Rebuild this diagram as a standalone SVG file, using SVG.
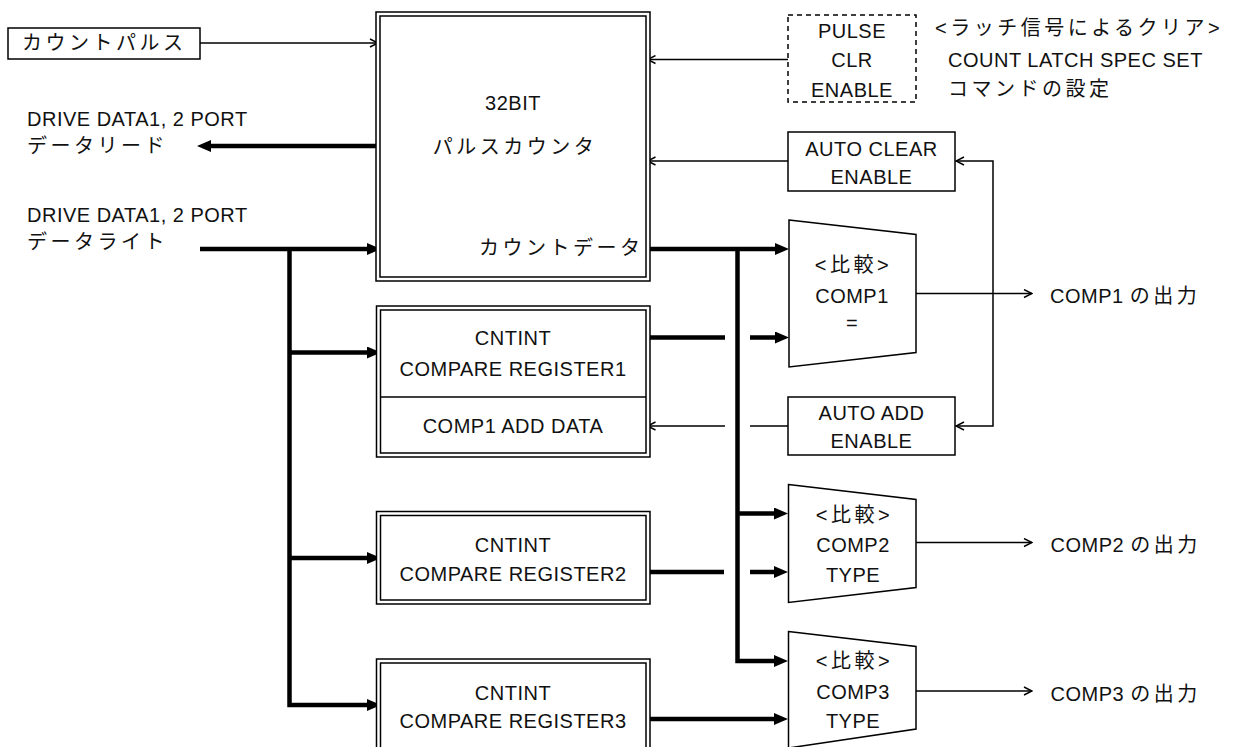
<svg xmlns="http://www.w3.org/2000/svg" width="1233" height="747" viewBox="0 0 1233 747">
<style>
  .bx{fill:#fff;stroke:#000;stroke-width:1.5}
  .dbx{fill:none;stroke:#000;stroke-width:1.5;stroke-dasharray:5 4}
  .thin{fill:none;stroke:#000;stroke-width:1.5}
  .thick{fill:none;stroke:#000;stroke-width:4.5}
  text{font-family:"Liberation Sans","Noto Sans CJK JP",sans-serif;font-size:20px;fill:#111}
  .t{letter-spacing:0.5px}
  .j{letter-spacing:3.5px}
  .c{text-anchor:middle}
</style>
<defs>
  <marker id="ah" viewBox="0 0 14 12" refX="6" refY="6" markerWidth="14" markerHeight="12" markerUnits="userSpaceOnUse" orient="auto">
    <path d="M0,0 L14,6 L0,12 z" fill="#000"/>
  </marker>
  <marker id="oa" viewBox="0 0 10 10" refX="9" refY="5" markerWidth="10" markerHeight="10" markerUnits="userSpaceOnUse" orient="auto">
    <path d="M1,1 L9,5 L1,9" fill="none" stroke="#000" stroke-width="1.4"/>
  </marker>
</defs>
<rect width="1233" height="747" fill="#fff"/>

<g id="connectors">
  <path class="thin" d="M200,43 H378" marker-end="url(#oa)"/>
  <path class="thin" d="M788,59.5 H647.5" marker-end="url(#oa)"/>
  <path class="thin" d="M788,161 H647.5" marker-end="url(#oa)"/>
  <path class="thin" d="M993,293.5 V161 H956" marker-end="url(#oa)"/>
  <path class="thin" d="M993,293.5 V426 H956" marker-end="url(#oa)"/>
  <path class="thin" d="M916,293.5 H1032" marker-end="url(#oa)"/>
  <path class="thin" d="M788,426 H750"/>
  <path class="thin" d="M725,426 H647.5" marker-end="url(#oa)"/>
  <path class="thin" d="M916,542.5 H1032" marker-end="url(#oa)"/>
  <path class="thin" d="M916,691 H1032" marker-end="url(#oa)"/>

  <path class="thick" d="M376,146 H205" marker-end="url(#ah)"/>
  <path class="thick" d="M200,249 H373" marker-end="url(#ah)"/>
  <path class="thick" d="M289.5,249 V705 H373" marker-end="url(#ah)"/>
  <path class="thick" d="M289.5,352.5 H373" marker-end="url(#ah)"/>
  <path class="thick" d="M289.5,558 H373" marker-end="url(#ah)"/>
  <path class="thick" d="M650,249 H781" marker-end="url(#ah)"/>
  <path class="thick" d="M737.5,249 V661 H780" marker-end="url(#ah)"/>
  <path class="thick" d="M737.5,513.5 H780" marker-end="url(#ah)"/>
  <path class="thick" d="M650,337.5 H725"/>
  <path class="thick" d="M750,337.5 H781" marker-end="url(#ah)"/>
  <path class="thick" d="M650,572 H724"/>
  <path class="thick" d="M750,572 H780" marker-end="url(#ah)"/>
  <path class="thick" d="M650,719 H780" marker-end="url(#ah)"/>
</g>

<g id="node-countpulse">
  <rect class="bx" x="8" y="28" width="192" height="31"/>
  <text class="j" x="22" y="50">カウントパルス</text>
</g>

<g id="label-dataread">
  <text class="t" x="27" y="126">DRIVE DATA1, 2 PORT</text>
  <text class="j" x="27" y="153">データリード</text>
</g>

<g id="label-datawrite">
  <text class="t" x="27" y="222">DRIVE DATA1, 2 PORT</text>
  <text class="j" x="27" y="249">データライト</text>
</g>

<g id="node-counter">
  <rect class="bx" x="376" y="12" width="274" height="269"/>
  <rect class="bx" x="380" y="16" width="266" height="261"/>
  <text class="t c" x="513" y="110">32BIT</text>
  <text class="j c" x="515" y="154">パルスカウンタ</text>
  <text class="j" x="643.5" y="255" text-anchor="end">カウントデータ</text>
</g>

<g id="node-pulseclr">
  <rect class="dbx" x="788" y="15" width="128" height="87"/>
  <text class="t c" x="852" y="37.5">PULSE</text>
  <text class="t c" x="852" y="66.5">CLR</text>
  <text class="t c" x="852" y="96.5">ENABLE</text>
</g>

<g id="label-latch">
  <text x="935" y="35"><tspan class="j">&lt;ラッチ信号によるクリア&gt;</tspan></text>
  <text class="t" x="948" y="66.5">COUNT LATCH SPEC SET</text>
  <text class="j" x="948" y="96">コマンドの設定</text>
</g>

<g id="node-autoclear">
  <rect class="bx" x="788" y="132" width="167" height="59"/>
  <text class="t c" x="871.5" y="156">AUTO CLEAR</text>
  <text class="t c" x="871.5" y="184">ENABLE</text>
</g>

<g id="node-autoadd">
  <rect class="bx" x="788" y="397" width="167" height="58"/>
  <text class="t c" x="871.5" y="420">AUTO ADD</text>
  <text class="t c" x="871.5" y="448">ENABLE</text>
</g>

<g id="node-reg1">
  <rect class="bx" x="376.5" y="306" width="273.5" height="151"/>
  <rect class="bx" x="380.5" y="310" width="265.5" height="143"/>
  <line class="thin" x1="380.5" y1="397" x2="646" y2="397"/>
  <text class="t c" x="513" y="345">CNTINT</text>
  <text class="t c" x="513" y="375.5">COMPARE REGISTER1</text>
  <text class="t c" x="513" y="433">COMP1 ADD DATA</text>
</g>

<g id="node-reg2">
  <rect class="bx" x="376.5" y="511.5" width="273.5" height="92.5"/>
  <rect class="bx" x="380.5" y="515.5" width="265.5" height="84.5"/>
  <text class="t c" x="513" y="552">CNTINT</text>
  <text class="t c" x="513" y="580.5">COMPARE REGISTER2</text>
</g>

<g id="node-reg3">
  <rect class="bx" x="376.5" y="659" width="273.5" height="94"/>
  <rect class="bx" x="380.5" y="663" width="265.5" height="86"/>
  <text class="t c" x="513" y="700">CNTINT</text>
  <text class="t c" x="513" y="728">COMPARE REGISTER3</text>
</g>

<g id="node-comp1">
  <polygon class="bx" points="789,220 916,234.5 916,352.5 789,367"/>
  <text class="j c" x="853.5" y="271.5">&lt;比較&gt;</text>
  <text class="t c" x="852" y="302.7">COMP1</text>
  <text class="t c" x="852" y="330">=</text>
</g>

<g id="node-comp2">
  <polygon class="bx" points="788.5,484.5 916,499.5 916,587.5 788.5,602.5"/>
  <text class="j c" x="854.5" y="521.5">&lt;比較&gt;</text>
  <text class="t c" x="853" y="552.3">COMP2</text>
  <text class="t c" x="853" y="581.7">TYPE</text>
</g>

<g id="node-comp3">
  <polygon class="bx" points="788.5,631.5 916,646.5 916,729 788.5,748"/>
  <text class="j c" x="854.5" y="668">&lt;比較&gt;</text>
  <text class="t c" x="853" y="699.3">COMP3</text>
  <text class="t c" x="853" y="728.3">TYPE</text>
</g>

<g id="label-out1">
  <text x="1050" y="302.7"><tspan class="t">COMP1 </tspan><tspan class="j">の出力</tspan></text>
</g>
<g id="label-out2">
  <text x="1050.5" y="552"><tspan class="t">COMP2 </tspan><tspan class="j">の出力</tspan></text>
</g>
<g id="label-out3">
  <text x="1050.5" y="700.7"><tspan class="t">COMP3 </tspan><tspan class="j">の出力</tspan></text>
</g>
</svg>
